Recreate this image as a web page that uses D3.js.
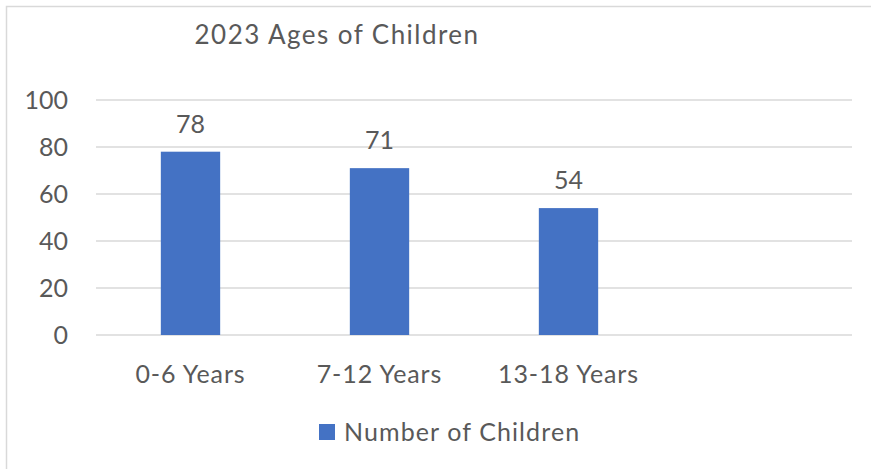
<!DOCTYPE html>
<html>
<head>
<meta charset="utf-8">
<script src="https://cdn.jsdelivr.net/npm/d3@7"></script>
<style>
  body { margin: 0; background: #fff; }
  text { font-family: Lato, "Open Sans", sans-serif; fill: #595959; }
</style>
</head>
<body>
<div id="chart"></div>
<script>
// DATA
const categories = ["0-6 Years", "7-12 Years", "13-18 Years", ""];
const values = [78, 71, 54, null];
const yTicks = [0, 20, 40, 60, 80, 100];
const seriesName = "Number of Children";
const title = "2023 Ages of Children";

// CONSTANTS
const WIDTH = 871;
const HEIGHT = 469;
const margin = { top: 100, right: 19, bottom: 134, left: 96 };
const BAR_COLOR = "#4472C4";
const GRID_COLOR = "#D9D9D9";
const FONT_SIZE = 25;

const svg = d3.select("#chart")
  .append("svg")
  .attr("width", WIDTH)
  .attr("height", HEIGHT);

// chart border (only left and top visible in the frame)
svg.append("rect")
  .attr("x", 6.5)
  .attr("y", 6.5)
  .attr("width", WIDTH + 20)
  .attr("height", HEIGHT + 20)
  .attr("fill", "none")
  .attr("stroke", GRID_COLOR)
  .attr("stroke-width", 1.5);

const x = d3.scaleBand()
  .domain(categories.map((c, i) => i))
  .range([margin.left, WIDTH - margin.right])
  .paddingInner(0.686)
  .paddingOuter(0.343);

const y = d3.scaleLinear()
  .domain([0, 100])
  .range([HEIGHT - margin.bottom, margin.top]);

// gridlines
svg.append("g")
  .selectAll("line")
  .data(yTicks)
  .enter()
  .append("line")
  .attr("x1", margin.left)
  .attr("x2", WIDTH - margin.right)
  .attr("y1", d => y(d))
  .attr("y2", d => y(d))
  .attr("stroke", GRID_COLOR)
  .attr("stroke-width", 1.5);

// y tick labels
svg.append("g")
  .selectAll("text")
  .data(yTicks)
  .enter()
  .append("text")
  .attr("x", 68)
  .attr("y", d => y(d))
  .attr("dy", "0.36em")
  .attr("text-anchor", "end")
  .attr("font-size", FONT_SIZE)
  .text(d => d);

// bars
const barData = values.map((v, i) => ({ i, v })).filter(d => d.v != null);
svg.append("g")
  .selectAll("rect")
  .data(barData)
  .enter()
  .append("rect")
  .attr("x", d => x(d.i))
  .attr("width", x.bandwidth())
  .attr("y", d => y(d.v))
  .attr("height", d => y(0) - y(d.v))
  .attr("fill", BAR_COLOR);

// data labels
svg.append("g")
  .selectAll("text")
  .data(barData)
  .enter()
  .append("text")
  .attr("x", d => x(d.i) + x.bandwidth() / 2)
  .attr("y", d => y(d.v) - 19)
  .attr("text-anchor", "middle")
  .attr("font-size", FONT_SIZE)
  .text(d => d.v);

// category labels
svg.append("g")
  .selectAll("text")
  .data(categories.map((c, i) => ({ c, i })))
  .enter()
  .append("text")
  .attr("x", d => x(d.i) + x.bandwidth() / 2)
  .attr("y", 383)
  .attr("text-anchor", "middle")
  .attr("font-size", FONT_SIZE)
  .attr("letter-spacing", 0.9)
  .text(d => d.c);

// title
svg.append("text")
  .attr("x", 337)
  .attr("y", 44)
  .attr("text-anchor", "middle")
  .attr("font-size", FONT_SIZE + 1)
  .attr("letter-spacing", 1.45)
  .text(title);

// legend
const legend = svg.append("g");
legend.append("rect")
  .attr("x", 319)
  .attr("y", 424)
  .attr("width", 16)
  .attr("height", 16)
  .attr("fill", BAR_COLOR);
legend.append("text")
  .attr("x", 344)
  .attr("y", 441)
  .attr("font-size", FONT_SIZE)
  .attr("letter-spacing", 1.1)
  .text(seriesName);
</script>
</body>
</html>
